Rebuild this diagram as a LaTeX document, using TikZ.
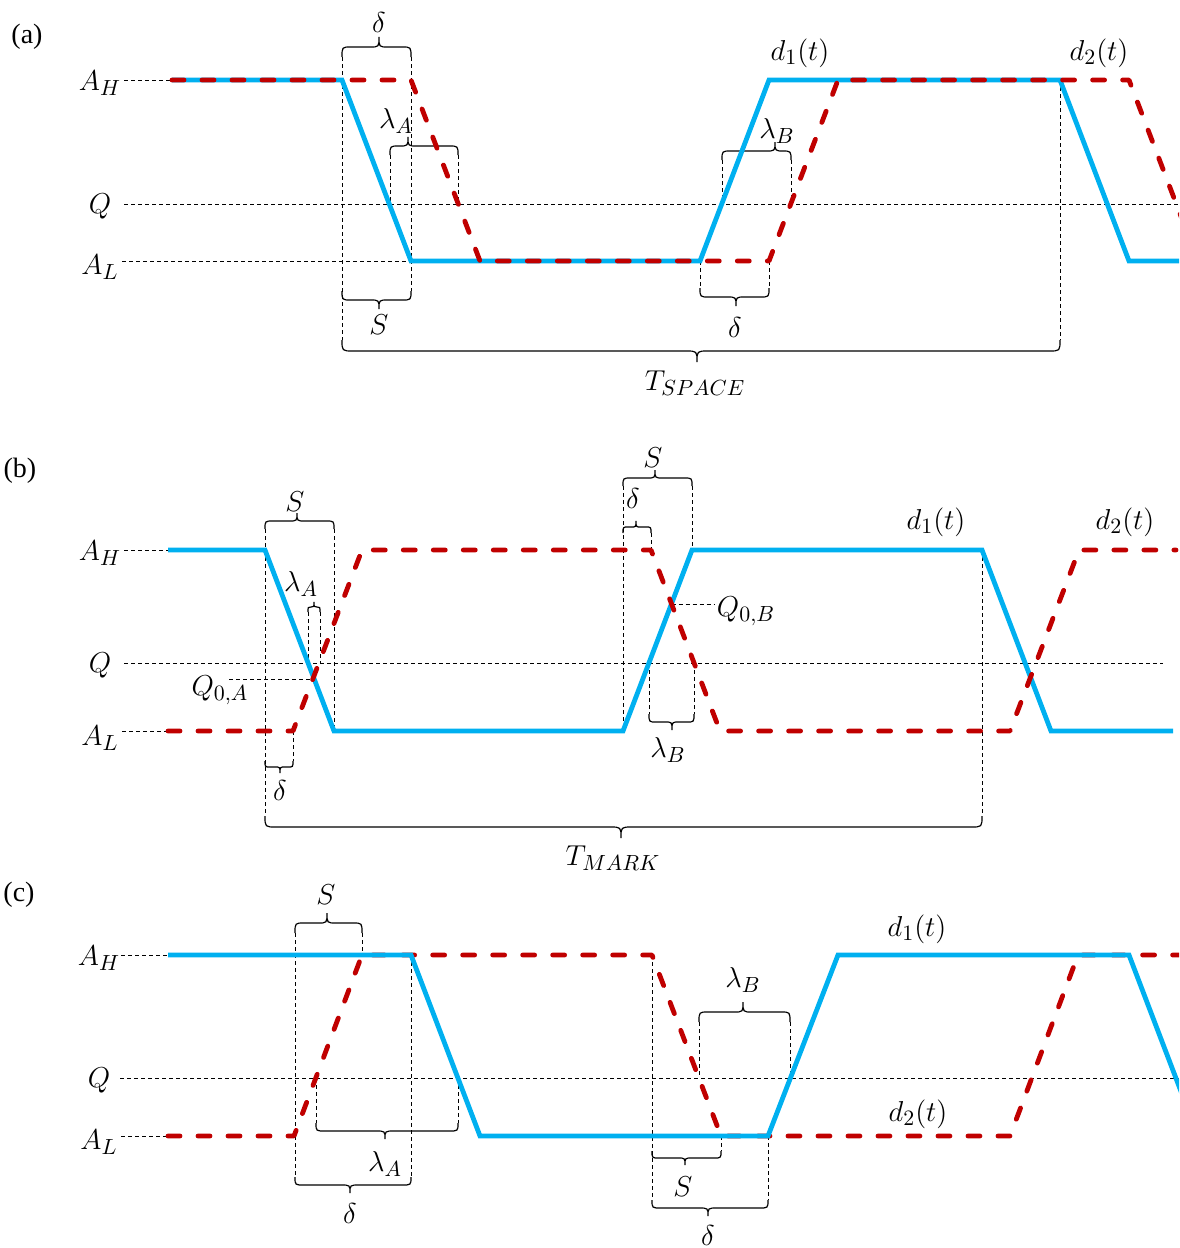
\documentclass[tikz,border=0pt]{standalone}
\usepackage{fontspec}
\setmainfont{Liberation Serif}
\definecolor{sigblue}{HTML}{00B0F0}
\definecolor{sigred}{HTML}{C00000}
\tikzset{
 d1line/.style={sigblue, line width=2.4pt, line join=miter},
 d2line/.style={sigred, line width=2.4pt, dash pattern=on 6pt off 9pt, line cap=round, line join=round},
 guide/.style={black, line width=0.5pt, dash pattern=on 2pt off 1.5pt},
 braceline/.style={black, line width=0.6pt},
 lbl/.style={inner sep=0pt, font=\fontsize{15}{17}\selectfont},
 axl/.style={lbl, anchor=base},
 pl/.style={inner sep=0pt, font=\fontsize{14}{16}\selectfont},
}
% brace: x1, x2, x tip, y, signed height (positive: tip up), corner radius
\newcommand{\brc}[6]{%
 \pgfmathsetmacro{\bEnd}{#4+(#5)}%
 \pgfmathsetmacro{\bTip}{#4-(#5)}%
 \draw[braceline] (#1,\bEnd) .. controls (#1,#4) .. (#1+#6,#4) -- (#3-#6,#4)
   .. controls (#3,#4) .. (#3,\bTip) .. controls (#3,#4) .. (#3+#6,#4)
   -- (#2-#6,#4) .. controls (#2,#4) .. (#2,\bEnd);}
\begin{document}
\begin{tikzpicture}[x=0.5pt,y=-0.5pt]
\useasboundingbox (0,0) rectangle (1179,1248);

% ================= panel (a) =================
\node[pl] (pa) at (27,37) {(a)};
\node[axl] (aAH) at (100,90) {$A_H$};
\node[axl] (aQ) at (100,213) {$Q$};
\node[axl] (aAL) at (100,274) {$A_L$};
\draw[guide] (124,80) -- (172,80);
\draw[guide] (124,204) -- (1179,204);
\draw[guide] (122,261) -- (411,261);
% verticals
\draw[guide] (342,57) -- (342,340);
\draw[guide] (411,57) -- (411,291);
\draw[guide] (390,155) -- (390,204);
\draw[guide] (458,155) -- (458,204);
\draw[guide] (722,160) -- (722,204);
\draw[guide] (791,160) -- (791,204);
\draw[guide] (700,261) -- (700,288);
\draw[guide] (769,261) -- (769,288);
\draw[guide] (1060,80) -- (1060,340);
% braces
\brc{342}{411}{379}{47}{10}{9}
\brc{342}{411}{379}{300}{-9}{9}
\brc{390}{458}{408}{146}{9}{9}
\brc{722}{791}{775}{151}{9}{9}
\brc{700}{769}{736}{297}{-9}{9}
\brc{342}{1060}{697}{351}{-11}{11}
% labels
\node[lbl] (aDelta) at (379,22) {$\delta$};
\node[lbl] (aS) at (379,325) {$S$};
\node[lbl] (aLamA) at (396,121) {$\lambda_A$};
\node[lbl] (aLamB) at (777,131) {$\lambda_B$};
\node[lbl] (aDelta2) at (735,327) {$\delta$};
\node[lbl] (aD1) at (800,53) {$d_1(t)$};
\node[lbl] (aD2) at (1099,53) {$d_2(t)$};
\node[lbl] (aT) at (695,383) {$T_{SPACE}$};
\begin{scope}
\clip (0,0) rectangle (1179,1248);
\draw[d1line] (172,80) -- (342,80) -- (411,261) -- (700,261) -- (769,80) -- (1060,80) -- (1129,261) -- (1185,261);
\draw[d2line] (172,80) -- (411,80) -- (480,261) -- (769,261) -- (838,80) -- (1129,80) -- (1198,261);
\end{scope}

% ================= panel (b) =================
\node[pl] (pb) at (20,471) {(b)};
\node[axl] (bAH) at (100,560) {$A_H$};
\node[axl] (bQ) at (100,672) {$Q$};
\node[axl] (bAL) at (100,745) {$A_L$};
\draw[guide] (124,550) -- (168,550);
\draw[guide] (124,663) -- (1163,663);
\draw[guide] (122,731) -- (168,731);
% verticals
\draw[guide] (265,529) -- (265,816);
\draw[guide] (334,529) -- (334,731);
\draw[guide] (308,612) -- (308,663);
\draw[guide] (320,612) -- (320,663);
\draw[guide] (293,731) -- (293,761);
\draw[guide] (982,550) -- (982,816);
\draw[guide] (623,486) -- (623,731);
\draw[guide] (692,486) -- (692,550);
\draw[guide] (651,533) -- (651,550);
\draw[guide] (649,663) -- (649,714);
\draw[guide] (694,663) -- (694,714);
\coordinate (q0a) at (313.5,679);
\coordinate (q0b) at (671.5,604);
\draw[guide] (229,679) -- (q0a);
\draw[guide] (q0b) -- (715,604);
% braces
\brc{265}{334}{297}{521}{8}{8}
\brc{308}{320}{314}{607}{5}{3}
\brc{265}{293}{280}{767}{-6}{5}
\brc{265}{982}{621}{827}{-11}{11}
\brc{623}{692}{655}{478}{8}{8}
\brc{623}{651}{636}{527}{6}{5}
\brc{649}{694}{672}{722}{-8}{7}
% labels
\node[lbl] (bS) at (295,502) {$S$};
\node[lbl] (bLamA) at (301,584) {$\lambda_A$};
\node[lbl] (bQ0A) at (220,690) {$Q_{0,A}$};
\node[lbl] (bDelta) at (280,790) {$\delta$};
\node[lbl] (bT) at (613,858) {$T_{MARK}$};
\node[lbl] (bS2) at (653,458) {$S$};
\node[lbl] (bDelta2) at (633,498) {$\delta$};
\node[lbl] (bQ0B) at (746,611) {$Q_{0,B}$};
\node[lbl] (bLamB) at (668,750) {$\lambda_B$};
\node[lbl] (bD1) at (936,522) {$d_1(t)$};
\node[lbl] (bD2) at (1125,522) {$d_2(t)$};
\begin{scope}
\clip (0,0) rectangle (1179,1248);
\draw[d1line] (168,550) -- (265,550) -- (334,731) -- (623,731) -- (692,550) -- (982,550) -- (1051,731) -- (1173,731);
\draw[d2line] (168,731) -- (293,731) -- (362,550) -- (651,550) -- (720,731) -- (1010,731) -- (1079,550) -- (1176,550);
\end{scope}

% ================= panel (c) =================
\node[pl] (pc) at (19,895) {(c)};
\node[axl] (cAH) at (99,965) {$A_H$};
\node[axl] (cQ) at (99,1087) {$Q$};
\node[axl] (cAL) at (99,1149) {$A_L$};
\draw[guide] (121,955) -- (168,955);
\draw[guide] (120,1078) -- (1179,1078);
\draw[guide] (121,1136) -- (168,1136);
% verticals
\draw[guide] (295,933) -- (295,1177);
\draw[guide] (362,933) -- (362,955);
\draw[guide] (316,1078) -- (316,1123);
\draw[guide] (458,1078) -- (458,1123);
\draw[guide] (411,955) -- (411,1177);
\draw[guide] (699,1022) -- (699,1078);
\draw[guide] (790,1022) -- (790,1078);
\draw[guide] (652,955) -- (652,1200);
\draw[guide] (721,1136) -- (721,1151);
\draw[guide] (768,1136) -- (768,1200);
% braces
\brc{295}{362}{327}{923}{10}{9}
\brc{316}{458}{385}{1131}{-8}{9}
\brc{295}{411}{350}{1185}{-8}{9}
\brc{699}{790}{743}{1012}{10}{9}
\brc{652}{721}{685}{1158}{-7}{7}
\brc{652}{768}{708}{1208}{-8}{9}
% labels
\node[lbl] (cS) at (326,895) {$S$};
\node[lbl] (cLamA) at (385,1164) {$\lambda_A$};
\node[lbl] (cDelta) at (350,1213) {$\delta$};
\node[lbl] (cLamB) at (743,980) {$\lambda_B$};
\node[lbl] (cS2) at (683,1187) {$S$};
\node[lbl] (cDelta2) at (708,1235) {$\delta$};
\node[lbl] (cD1) at (917,929) {$d_1(t)$};
\node[lbl] (cD2) at (918,1114) {$d_2(t)$};
\begin{scope}
\clip (0,0) rectangle (1179,1248);
\draw[d2line] (168,1136) -- (294,1136) -- (362,955) -- (652,955) -- (721,1136) -- (1010,1136) -- (1078,955) -- (1179,955);
\draw[d1line] (168,955) -- (411,955) -- (480,1136) -- (768,1136) -- (838,955) -- (1129,955) -- (1198,1136);
\end{scope}
\end{tikzpicture}
\end{document}
